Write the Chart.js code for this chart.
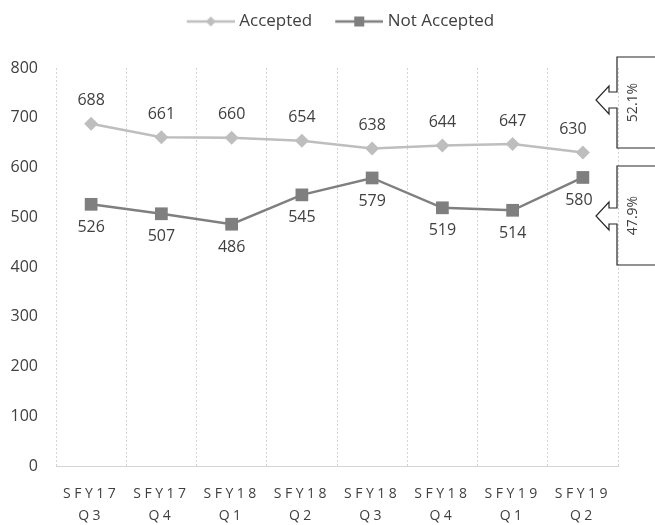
<!DOCTYPE html>
<html>
<head>
<meta charset="utf-8">
<script src="https://cdn.jsdelivr.net/npm/chart.js@4"></script>
<style>
  html, body { margin: 0; padding: 0; background: #fff; }
  #wrap { width: 655px; height: 525px; }
</style>
</head>
<body>
<div id="wrap"><canvas id="chart"></canvas></div>
<script>
const quarters = [
  ["SFY17", "Q3"], ["SFY17", "Q4"], ["SFY18", "Q1"], ["SFY18", "Q2"],
  ["SFY18", "Q3"], ["SFY18", "Q4"], ["SFY19", "Q1"], ["SFY19", "Q2"]
];
const accepted = [688, 661, 660, 654, 638, 644, 647, 630];
const notAccepted = [526, 507, 486, 545, 579, 519, 514, 580];
const yTicks = [0, 100, 200, 300, 400, 500, 600, 700, 800];

const FONT = "'Open Sans', 'Noto Sans', sans-serif";
const TEXT = "#404040";
const LIGHT = "#bebebe";
const DARK = "#7f7f7f";

// line+marker picture for the legend (transparent gap on the left = spacing between items)
function legendIcon(color, shape) {
  const c = document.createElement("canvas");
  c.width = 65; c.height = 14;
  const g = c.getContext("2d");
  g.strokeStyle = color;
  g.lineWidth = 2.5;
  g.beginPath(); g.moveTo(17, 7); g.lineTo(65, 7); g.stroke();
  g.fillStyle = color;
  g.beginPath();
  if (shape === "diamond") {
    g.moveTo(41, 2); g.lineTo(46, 7); g.lineTo(41, 12); g.lineTo(36, 7);
  } else {
    g.rect(36, 2, 10, 10);
  }
  g.closePath(); g.fill();
  return c;
}

// value labels above / below the points
const valueLabels = {
  id: "valueLabels",
  afterDatasetsDraw(chart) {
    const ctx = chart.ctx;
    ctx.save();
    ctx.font = "16px " + FONT;
    ctx.fillStyle = TEXT;
    ctx.textAlign = "center";
    ctx.textBaseline = "middle";
    chart.data.datasets.forEach((ds, i) => {
      const meta = chart.getDatasetMeta(i);
      const off = i === 0 ? -23 : 23;
      meta.data.forEach((pt, j) => {
        // last label pulled left, away from the callout
        let dx = 0;
        if (j === meta.data.length - 1) dx = i === 0 ? -10 : -4;
        ctx.fillText(ds.data[j], pt.x + dx, pt.y + off);
      });
    });
    ctx.restore();
  }
};

// share callouts on the right (last quarter)
const callouts = {
  id: "callouts",
  afterDraw(chart) {
    const ctx = chart.ctx;
    const last = accepted.length - 1;
    const total = accepted[last] + notAccepted[last];
    const shares = [
      (accepted[last] / total * 100).toFixed(1) + "%",
      (notAccepted[last] / total * 100).toFixed(1) + "%"
    ];
    const boxes = [
      { top: 57, bottom: 148, tip: 100 },
      { top: 166, bottom: 265, tip: 216 }
    ];
    const left = chart.chartArea.right - 1;
    const right = chart.width + 5;
    ctx.save();
    ctx.strokeStyle = "#262626";
    ctx.lineWidth = 1.2;
    boxes.forEach((b, i) => {
      const t = b.tip;
      ctx.beginPath();
      ctx.moveTo(right, b.top);
      ctx.lineTo(left, b.top);
      ctx.lineTo(left, t - 8);
      ctx.lineTo(left - 8, t - 8);
      ctx.lineTo(left - 8, t - 14);
      ctx.lineTo(left - 21, t);
      ctx.lineTo(left - 8, t + 14);
      ctx.lineTo(left - 8, t + 8);
      ctx.lineTo(left, t + 8);
      ctx.lineTo(left, b.bottom);
      ctx.lineTo(right, b.bottom);
      ctx.stroke();
      ctx.save();
      ctx.translate(left + 16, (b.top + b.bottom) / 2);
      ctx.rotate(-Math.PI / 2);
      ctx.font = "14px " + FONT;
      ctx.fillStyle = TEXT;
      ctx.textAlign = "center";
      ctx.textBaseline = "middle";
      ctx.fillText(shares[i], 0, 0);
      ctx.restore();
    });
    ctx.restore();
  }
};

// spaced-out letters on the category labels, legend nudged and given room below
const tweaks = {
  id: "tweaks",
  beforeLayout(chart) {
    const lg = chart.legend;
    if (lg && !lg._patched) {
      const fit = lg.fit;
      lg.fit = function () {
        fit.call(this);
        this.height += 31;
      };
      lg._patched = true;
    }
  },
  afterLayout(chart) {
    const lg = chart.legend;
    if (lg) {
      lg.left += 50;
      lg.top += 3;
    }
  },
  beforeDraw(chart) {
    const sx = chart.scales.x;
    if (sx._spaced) return;
    const orig = sx.drawLabels;
    sx.drawLabels = function (area) {
      this.ctx.save();
      this.ctx.letterSpacing = "3.5px";
      orig.call(this, area);
      this.ctx.restore();
    };
    sx._spaced = true;
  }
};

new Chart(document.getElementById("chart"), {
  type: "line",
  data: {
    labels: quarters,
    datasets: [{
      label: "Accepted",
      data: accepted,
      borderColor: LIGHT,
      backgroundColor: LIGHT,
      borderWidth: 2.5,
      pointStyle: "rectRot",
      pointRadius: 7,
      pointBorderWidth: 0,
      tension: 0
    }, {
      label: "Not Accepted",
      data: notAccepted,
      borderColor: DARK,
      backgroundColor: DARK,
      borderWidth: 2.5,
      pointStyle: "rect",
      pointRadius: 9,
      pointBorderWidth: 0,
      tension: 0
    }]
  },
  options: {
    responsive: true,
    maintainAspectRatio: false,
    animation: false,
    layout: { padding: { top: 0, right: 37, left: 0, bottom: 0 } },
    scales: {
      x: {
        offset: true,
        grid: {
          offset: true,
          color: "#d4d4d4",
          drawTicks: false,
          tickBorderDash: [2, 2]
        },
        border: { display: true, color: "#d4d4d4", dash: [2, 2] },
        ticks: {
          color: TEXT,
          font: { family: FONT, size: 14, lineHeight: 1.55 },
          padding: 17,
          maxRotation: 0,
          autoSkip: false
        },
        afterFit(scale) { scale.height = 59; }
      },
      y: {
        min: 0,
        max: 800,
        afterBuildTicks(scale) { scale.ticks = yTicks.map(v => ({ value: v })); },
        grid: { display: false, drawTicks: false },
        border: { display: false },
        ticks: {
          color: TEXT,
          font: { family: FONT, size: 16 },
          padding: 18
        },
        afterFit(scale) { scale.width = 56; }
      }
    },
    plugins: {
      legend: {
        position: "top",
        labels: {
          usePointStyle: true,
          pointStyleWidth: 57,
          color: TEXT,
          font: { family: FONT, size: 17 },
          padding: 10,
          generateLabels(chart) {
            return chart.data.datasets.map((ds, i) => ({
              text: ds.label,
              pointStyle: legendIcon(ds.borderColor, i === 0 ? "diamond" : "square"),
              fontColor: TEXT,
              lineWidth: 0,
              datasetIndex: i
            }));
          }
        }
      },
      tooltip: { enabled: false }
    }
  },
  plugins: [valueLabels, callouts, tweaks]
});
</script>
</body>
</html>
